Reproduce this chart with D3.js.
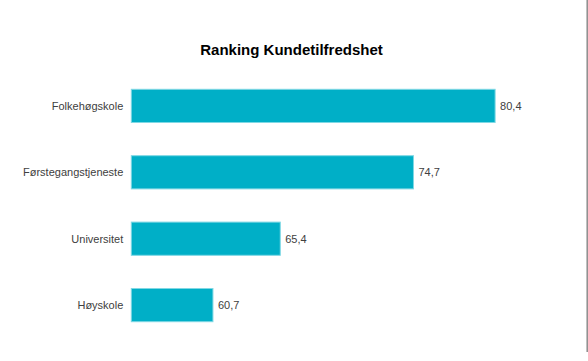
<!DOCTYPE html>
<meta charset="utf-8">
<html>
<head>
    <style type="text/css">
        body { margin: 0; background: #fff; }
        .title { font-family: "Liberation Sans", Arial, sans-serif; font-size: 15px; font-weight: bold; fill: #000; }
        .label, .value { font-family: "Liberation Sans", Arial, sans-serif; font-size: 11px; fill: #404040; }
        .bar { fill: #00afc7; stroke: #7fd8e4; stroke-width: 1; }
        .frame { stroke: #8c8c8c; stroke-width: 1.5; }
    </style>
</head>
<body>
    <script src="https://d3js.org/d3.v7.min.js"></script>
    <script>
        // data
        var categories = ["Folkehøgskole", "Førstegangstjeneste", "Universitet", "Høyskole"];
        var scores = [80.4, 74.7, 65.4, 60.7];
        var chartTitle = "Ranking Kundetilfredshet";

        var width = 588, height = 361;

        var svg = d3.select("body").append("svg")
            .attr("width", width)
            .attr("height", height);

        // the axis starts at 55, not zero
        var xScale = d3.scaleLinear()
            .domain([55, 85])
            .range([131.3, 561]);

        var yScale = d3.scaleBand()
            .domain(categories)
            .range([72.7, 338.3])
            .paddingInner(0.5)
            .paddingOuter(0.25);

        svg.append("text")
            .attr("class", "title")
            .attr("x", 291.5)
            .attr("y", 55)
            .attr("text-anchor", "middle")
            .text(chartTitle);

        var rows = categories.map(function (c, i) { return { name: c, value: scores[i] }; });

        svg.selectAll(".bar")
            .data(rows)
            .enter().append("rect")
            .attr("class", "bar")
            .attr("x", xScale(55))
            .attr("y", function (d) { return yScale(d.name); })
            .attr("width", function (d) { return xScale(d.value) - xScale(55); })
            .attr("height", yScale.bandwidth());

        svg.selectAll(".label")
            .data(rows)
            .enter().append("text")
            .attr("class", "label")
            .attr("x", xScale(55) - 8)
            .attr("y", function (d) { return yScale(d.name) + yScale.bandwidth() / 2; })
            .attr("dy", "0.35em")
            .attr("text-anchor", "end")
            .text(function (d) { return d.name; });

        svg.selectAll(".value")
            .data(rows)
            .enter().append("text")
            .attr("class", "value")
            .attr("x", function (d) { return xScale(d.value) + 5; })
            .attr("y", function (d) { return yScale(d.name) + yScale.bandwidth() / 2; })
            .attr("dy", "0.35em")
            .text(function (d) { return d3.format(".1f")(d.value).replace(".", ","); });

        // grey border line on the right edge
        svg.append("line")
            .attr("class", "frame")
            .attr("x1", 587.2).attr("x2", 587.2)
            .attr("y1", 0).attr("y2", 352);
    </script>
</body>
</html>
